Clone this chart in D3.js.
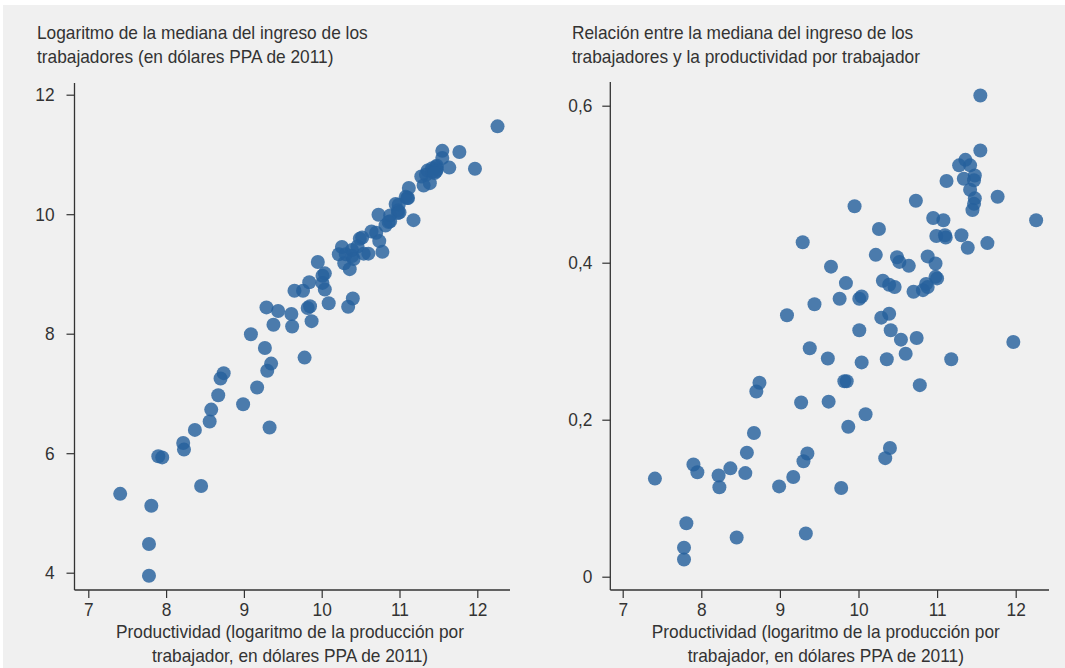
<!DOCTYPE html>
<html><head><meta charset="utf-8">
<script src="https://cdn.jsdelivr.net/npm/d3@7"></script>
<style>
html,body{margin:0;padding:0;background:#fff;}
text{font-family:"Liberation Sans",Arial,sans-serif;fill:#333;}
</style></head>
<body>
<svg id="chart" width="1065" height="668"></svg>
<script>
// Productivity (log output per worker, PPP 2011) — shared by both panels
const productivity = [7.41,7.78,7.78,7.81,7.90,7.95,8.22,8.23,8.37,8.45,8.56,8.58,8.67,8.70,8.74,8.99,9.17,9.27,9.30,9.35,9.33,9.62,9.78,9.82,9.85,9.87,10.09,10.34,10.40,10.78,
 11.55,11.55,11.28,11.36,11.42,11.34,11.48,11.47,11.42,11.12,11.77,11.48,11.47,11.45,12.26,9.95,10.73,10.95,11.08,10.99,11.10,11.11,11.31,11.39,11.64,10.26,9.29,10.22,10.49,10.52,10.64,10.88,10.98,10.98,11.00,10.31,10.39,10.46,10.70,10.82,10.86,10.88,9.65,9.84,9.76,10.01,10.04,9.44,10.29,10.39,10.41,10.01,10.54,10.74,10.60,9.38,9.61,10.04,10.36,11.18,11.97,9.09];
// Left panel: log of median worker income
const logIncome = [5.32,4.48,3.95,5.12,5.95,5.93,6.17,6.06,6.39,5.45,6.53,6.73,6.97,7.25,7.34,6.82,7.10,7.76,7.38,7.50,6.43,8.12,7.60,8.43,8.46,8.21,8.51,8.45,8.59,9.37,
 11.06,10.94,10.63,10.73,10.77,10.66,10.81,10.79,10.71,10.44,11.04,10.75,10.72,10.69,11.47,9.20,9.99,10.17,10.29,10.16,10.27,10.27,10.48,10.52,10.78,9.45,8.44,9.33,9.59,9.61,9.71,9.98,10.06,10.02,10.03,9.33,9.40,9.46,9.69,9.81,9.87,9.88,8.72,8.86,8.72,8.97,9.01,8.38,9.18,9.30,9.25,8.85,9.34,9.55,9.34,8.15,8.33,8.74,9.08,9.90,10.76,7.99];
// Right panel: ratio median income / productivity
const ratio = [0.125,0.037,0.022,0.068,0.143,0.133,0.129,0.114,0.138,0.050,0.132,0.158,0.183,0.236,0.247,0.115,0.127,0.222,0.147,0.157,0.055,0.223,0.113,0.249,0.249,0.191,0.207,0.151,0.164,0.244,
 0.613,0.543,0.524,0.531,0.524,0.507,0.511,0.505,0.493,0.504,0.484,0.482,0.475,0.467,0.454,0.472,0.479,0.457,0.454,0.434,0.435,0.432,0.435,0.419,0.425,0.443,0.426,0.410,0.407,0.401,0.396,0.408,0.399,0.382,0.380,0.377,0.372,0.369,0.363,0.365,0.373,0.369,0.395,0.374,0.354,0.354,0.357,0.347,0.330,0.335,0.314,0.314,0.302,0.304,0.284,0.291,0.278,0.273,0.277,0.277,0.299,0.333];

const xTicks = [7,8,9,10,11,12];
const leftYTicks = [4,6,8,10,12];
const rightYTicks = [0,0.2,0.4,0.6];
const leftTitle = ["Logaritmo de la mediana del ingreso de los","trabajadores (en dólares PPA de 2011)"];
const rightTitle = ["Relación entre la mediana del ingreso de los","trabajadores y la productividad por trabajador"];
const xTitle = ["Productividad (logaritmo de la producción por","trabajador, en dólares PPA de 2011)"];

const svg = d3.select("#chart");
svg.append("rect").attr("x",3).attr("y",5).attr("width",1062).attr("height",663).attr("fill","#f0f0f0");

const FS = 19;
// condensed look: horizontal squeeze factor measured from the left title's first line
const probe = svg.append("text").style("font-size",FS+"px").text(leftTitle[0]);
const SQ = 331 / probe.node().getComputedTextLength();
probe.remove();

function label(parent, x, y, str, anchor){
  parent.append("g").attr("transform",`translate(${x},${y}) scale(${SQ},1)`)
    .append("text").attr("text-anchor",anchor||"start").style("font-size",FS+"px").text(str);
}

const fmtComma = d => d === 0 ? "0" : d3.format(".1f")(d).replace(".", ",");

function panel(cfg){
  const g = svg.append("g");
  const x = d3.scaleLinear().domain([7,12]).range(cfg.xRange);
  const y = d3.scaleLinear().domain(cfg.yDomain).range(cfg.yRange);
  const axisColor = "#333";
  const xa = g.append("g").attr("transform",`translate(0,${cfg.xAxisY})`)
    .call(d3.axisBottom(x).tickValues(xTicks).tickSize(8).tickPadding(5).tickFormat(d3.format("d")));
  xa.select(".domain").remove();
  xa.append("line").attr("x1",cfg.axisX).attr("x2",cfg.xEnd).attr("y1",0).attr("y2",0).attr("stroke",axisColor).attr("stroke-width",1.3);
  const ya = g.append("g").attr("transform",`translate(${cfg.axisX},0)`)
    .call(d3.axisLeft(y).tickValues(cfg.yTicks).tickSize(8).tickPadding(cfg.tickPad).tickFormat(cfg.fmt));
  ya.select(".domain").remove();
  ya.append("line").attr("x1",0).attr("x2",0).attr("y1",cfg.yTop).attr("y2",cfg.xAxisY).attr("stroke",axisColor).attr("stroke-width",1.3);
  [xa,ya].forEach(a=>{
    a.selectAll(".tick line").attr("stroke",axisColor).attr("stroke-width",1.2);
    a.selectAll(".tick text").attr("font-family",null).style("font-size",FS+"px").style("fill","#333")
      .each(function(){
        const t = d3.select(this);
        const x0 = +t.attr("x") || 0;
        t.attr("x", x0 / SQ).attr("transform", `scale(${SQ},1)`);
      });
  });
  cfg.title.forEach((t,i)=> label(g, cfg.titleX, 39+i*24, t, "start"));
  xTitle.forEach((t,i)=> label(g, cfg.axisX+215.5, 638+i*24, t, "middle"));
  g.append("g").selectAll("circle").data(productivity.map((p,i)=>[p,cfg.values[i]])).join("circle")
    .attr("cx",d=>x(d[0])).attr("cy",d=>y(d[1])).attr("r",7)
    .attr("fill","rgb(38,96,156)").attr("fill-opacity",0.82);
}

panel({xRange:[88.3,477.3], yDomain:[4,12], yRange:[572.7,94.7], xAxisY:590, axisX:74.5, xEnd:510, yTop:83,
  yTicks:leftYTicks, fmt:d3.format("d"), tickPad:12, title:leftTitle, titleX:37, values:logIncome});
panel({xRange:[622.7,1015.7], yDomain:[0,0.6], yRange:[576.7,105.7], xAxisY:590, axisX:610.3, xEnd:1049, yTop:82,
  yTicks:rightYTicks, fmt:fmtComma, tickPad:10, title:rightTitle, titleX:572, values:ratio});
</script>
</body></html>
